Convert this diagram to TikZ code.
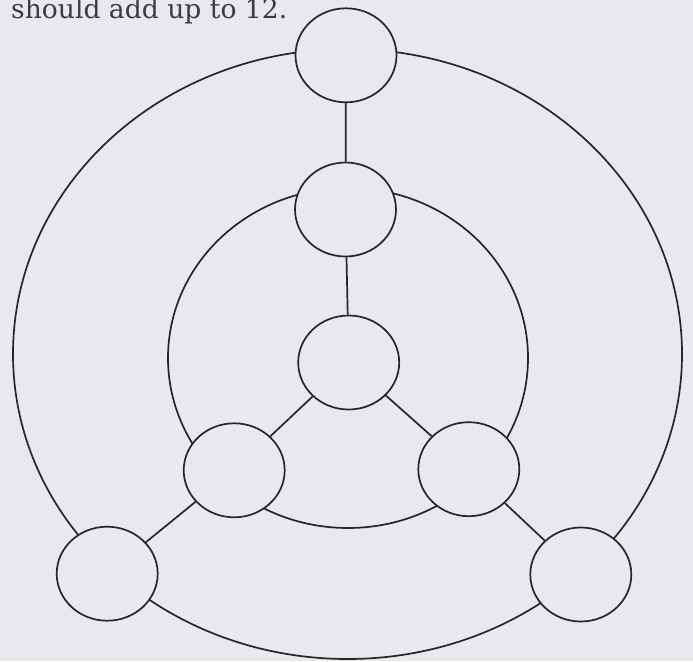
\documentclass[tikz,border=0pt]{standalone}
\usepackage{fontspec}
\setmainfont{DejaVu Serif}
\usetikzlibrary{shapes.geometric}
\definecolor{paper}{RGB}{231,233,239}
\definecolor{ink}{RGB}{38,38,38}
\definecolor{printink}{RGB}{60,60,62}
\tikzset{
  ring/.style={draw=ink, line width=1.7pt},
  nd/.style={ellipse, draw=ink, fill=paper, line width=1.7pt, inner sep=0pt,
    minimum width=101pt, minimum height=94pt},
  edge/.style={draw=ink, line width=1.7pt}
}
\begin{document}
\begin{tikzpicture}[x=1pt,y=-1pt]
  \useasboundingbox (0,0) rectangle (693,661);
  \clip (0,0) rectangle (693,661);
  \fill[paper] (0,0) rectangle (693,661);
  % fragment of page text at the top
  \node[anchor=base west, inner sep=0pt, text=printink] (txt) at (11,19)
    {\resizebox{276pt}{!}{should add up to 12.}};
  % rings
  \draw[ring] (347.5,354) ellipse [x radius=334.5pt, y radius=305pt];
  \draw[ring] (348,358) ellipse [x radius=180pt, y radius=170pt];
  % nodes
  \node[nd] (n1) at (346,55.3) {};
  \node[nd] (n2) at (345.5,209.5) {};
  \node[nd] (n3) at (348.7,362.5) {};
  \node[nd] (n4) at (234.2,470.3) {};
  \node[nd] (n5) at (468.8,469.2) {};
  \node[nd] (n6) at (107.2,573.7) {};
  \node[nd] (n7) at (580.8,574.5) {};
  % connectors
  \draw[edge] (n1) -- (n2);
  \draw[edge] (n2) -- (n3);
  \draw[edge] (n3) -- (n4);
  \draw[edge] (n3) -- (n5);
  \draw[edge] (n4) -- (n6);
  \draw[edge] (n5) -- (n7);
\end{tikzpicture}
\end{document}
